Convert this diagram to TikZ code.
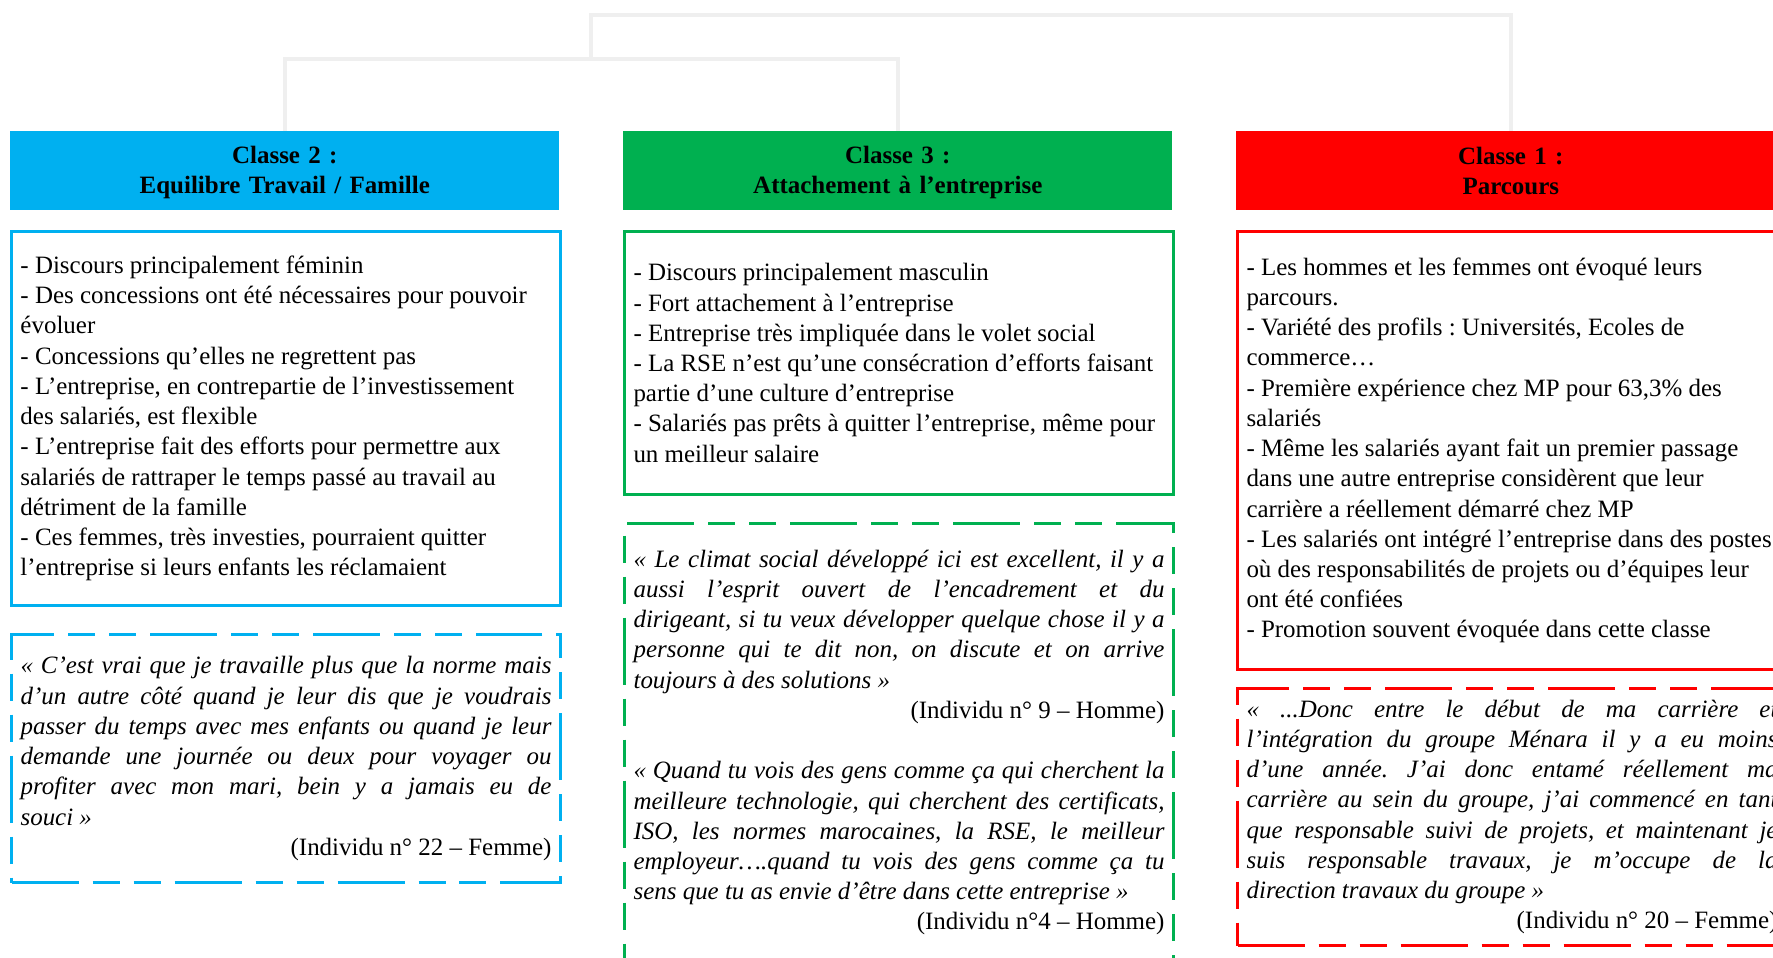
\documentclass[tikz,border=0pt]{standalone}
\usepackage{fontspec}
\setmainfont{Liberation Serif}
\definecolor{classblue}{HTML}{00B0F0}
\definecolor{classgreen}{HTML}{00B050}
\definecolor{classred}{HTML}{FF0000}
\definecolor{linkgray}{HTML}{EFEFEF}
\hyphenpenalty=10000
\tolerance=9999
\frenchspacing
\newcommand\headstrut{\rule[-1.5pt]{0pt}{13pt}}

\begin{document}
\begin{tikzpicture}[x=0.02cm, y=-0.02cm,
    txtbox/.style={font=\fontsize{14.2}{17.2}\selectfont,
      text width=10.62cm, inner xsep=0.18cm, inner ysep=2pt, anchor=north west},
    headbox/.style={txtbox, fill=#1, align=center,
      font=\fontsize{14.2}{17.2}\selectfont\bfseries, minimum height=1.58cm},
    pointbox/.style={txtbox, draw=#1, line width=1.7pt, align=flush left},
    quotebox/.style={txtbox, draw=#1, line width=1.8pt, align=justify,
      dash pattern=on 1.34cm off 0.28cm on 0.54cm off 0.28cm on 0.54cm off 0.28cm},
    link/.style={draw=linkgray, line width=2.4pt}]
  \path[use as bounding box, clip] (0,0) rectangle (1773,957);

  % headers
  \node[headbox=classblue] (h2) at (10,131) {\headstrut Classe 2 :\\\headstrut Equilibre Travail / Famille};
  \node[headbox=classgreen] (h3) at (623,131) {\headstrut Classe 3 :\\\headstrut Attachement à l’entreprise};
  \node[headbox=classred] (h1) at (1236,131) {\headstrut Classe 1 :\\\headstrut Parcours};

  % dendrogram
  \coordinate (j23) at (591,59);
  \coordinate (jtop) at (1051,15);
  \draw[link] (h2.north) |- (j23) -| (h3.north);
  \draw[link] (j23) |- (jtop) -| (h1.north);

  % Classe 2
  \node[pointbox=classblue, minimum height=7.48cm] (d2) at (10,230) {%
    - Discours principalement féminin\\
    - Des concessions ont été nécessaires pour pouvoir\\
    évoluer\\
    - Concessions qu’elles ne regrettent pas\\
    - L’entreprise, en contrepartie de l’investissement\\
    des salariés, est flexible\\
    - L’entreprise fait des efforts pour permettre aux\\
    salariés de rattraper le temps passé au travail au\\
    détriment de la famille\\
    - Ces femmes, très investies, pourraient quitter\\
    l’entreprise si leurs enfants les réclamaient};
  \node[quotebox=classblue, minimum height=4.96cm] (q2) at (10,633) {%
    {\itshape «~C’est vrai que je travaille plus que la norme mais\linebreak
    d’un autre côté quand je leur dis que je voudrais\linebreak
    passer du temps avec mes enfants ou quand je leur\linebreak
    demande une journée ou deux pour voyager ou\linebreak
    profiter avec mon mari, bein y a jamais eu de\linebreak
    souci~»\par}
    {\raggedleft (Individu n° 22 – Femme)\par}};

  % Classe 3
  \node[pointbox=classgreen, minimum height=5.26cm] (d3) at (623,230) {%
    - Discours principalement masculin\\
    - Fort attachement à l’entreprise\\
    - Entreprise très impliquée dans le volet social\\
    - La RSE n’est qu’une consécration d’efforts faisant\\
    partie d’une culture d’entreprise\\
    - Salariés pas prêts à quitter l’entreprise, même pour\\
    un meilleur salaire};
  \node[quotebox=classgreen, minimum height=8.76cm] (q3) at (623,522) {%
    {\itshape «~Le climat social développé ici est excellent, il y a\linebreak
    aussi l’esprit ouvert de l’encadrement et du\linebreak
    dirigeant, si tu veux développer quelque chose il y a\linebreak
    personne qui te dit non, on discute et on arrive\linebreak
    toujours à des solutions~»\par}
    {\raggedleft (Individu n° 9 – Homme)\par}
    \vspace{\baselineskip}
    {\itshape «~Quand tu vois des gens comme ça qui cherchent la\linebreak
    meilleure technologie, qui cherchent des certificats,\linebreak
    ISO, les normes marocaines, la RSE, le meilleur\linebreak
    employeur….quand tu vois des gens comme ça tu\linebreak
    sens que tu as envie d’être dans cette entreprise~»\par}
    {\raggedleft (Individu n°4 – Homme)\par}};

  % Classe 1
  \node[pointbox=classred, minimum height=8.76cm] (d1) at (1236,230) {%
    - Les hommes et les femmes ont évoqué leurs\\
    parcours.\\
    - Variété des profils : Universités, Ecoles de\\
    commerce…\\
    - Première expérience chez MP pour 63,3\% des\\
    salariés\\
    - Même les salariés ayant fait un premier passage\\
    dans une autre entreprise considèrent que leur\\
    carrière a réellement démarré chez MP\\
    - Les salariés ont intégré l’entreprise dans des postes\\
    où des responsabilités de projets ou d’équipes leur\\
    ont été confiées\\
    - Promotion souvent évoquée dans cette classe};
  \node[quotebox=classred, minimum height=5.14cm] (q1) at (1236,687) {%
    {\itshape « ...Donc entre le début de ma carrière et\linebreak
    l’intégration du groupe Ménara il y a eu moins\linebreak
    d’une année. J’ai donc entamé réellement ma\linebreak
    carrière au sein du groupe, j’ai commencé en tant\linebreak
    que responsable suivi de projets, et maintenant je\linebreak
    suis responsable travaux, je m’occupe de la\linebreak
    direction travaux du groupe~»\par}
    {\raggedleft (Individu n° 20 – Femme)\par}};
\end{tikzpicture}
\end{document}
